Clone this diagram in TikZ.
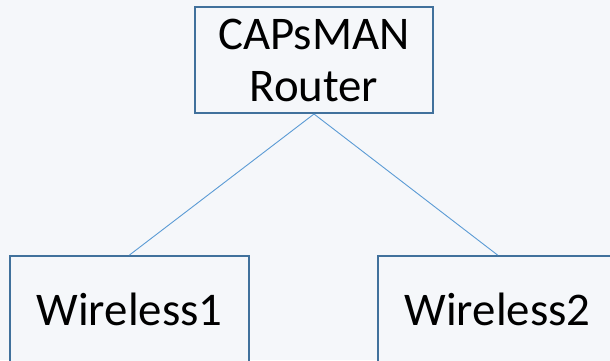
\documentclass[tikz,border=0pt]{standalone}
\usepackage{fontspec}
\setmainfont{Carlito}
\definecolor{bg}{HTML}{F5F7FA}
\definecolor{boxline}{HTML}{41719C}
\definecolor{conn}{HTML}{5B9BD5}
\begin{document}
\begin{tikzpicture}[x=1bp,y=-1bp,
  box/.style={draw=boxline, line width=2bp, fill=bg, inner sep=0pt, align=center,
    font=\fontsize{47}{52.5}\selectfont},
  link/.style={draw=conn, line width=0.9bp}]
\fill[bg] (0,0) rectangle (610,360);
\useasboundingbox (0,0) rectangle (610,360);
\node[box, minimum width=238bp, minimum height=106bp, text height=84.5bp, text depth=1bp] (router) at (314,60) {CAPsMAN\\Router};
\node[box, anchor=north, minimum width=239bp, minimum height=150bp, text height=32bp, text depth=44bp] (w1) at (129.5,255) {Wireless1};
\node[box, anchor=north, minimum width=239bp, minimum height=150bp, text height=32bp, text depth=44bp] (w2) at (497.5,255) {Wireless2};
\draw[link] (router.south) -- (w1.north);
\draw[link] (router.south) -- (w2.north);
\end{tikzpicture}
\end{document}
